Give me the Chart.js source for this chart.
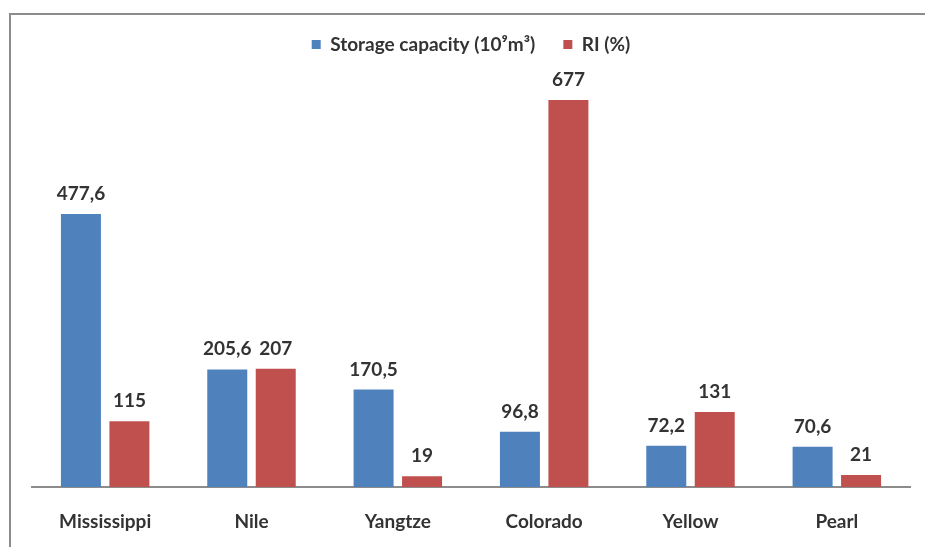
<!DOCTYPE html>
<html>
<head>
<meta charset="utf-8">
<script src="https://cdn.jsdelivr.net/npm/chart.js@4/dist/chart.umd.min.js"></script>
<style>
  html, body { margin: 0; padding: 0; background: #ffffff; }
  canvas { display: block; }
</style>
</head>
<body>
<canvas id="c" width="925" height="547"></canvas>
<script>
const categories = ["Mississippi", "Nile", "Yangtze", "Colorado", "Yellow", "Pearl"];
const storageCapacity = [477.6, 205.6, 170.5, 96.8, 72.2, 70.6];
const riPercent = [115, 207, 19, 677, 131, 21];
const seriesNames = ["Storage capacity (10\u2079m\u00B3)", "RI (%)"];

const FONT = "Lato";
const TEXT = "#333333";

const frame = {
  id: "frame",
  beforeDraw(chart) {
    const ctx = chart.ctx;
    ctx.save();
    ctx.fillStyle = "#ffffff";
    ctx.fillRect(0, 0, chart.width, chart.height);
    ctx.strokeStyle = "#8c8c8c";
    ctx.lineWidth = 2;
    ctx.beginPath();
    ctx.moveTo(10, chart.height + 5);
    ctx.lineTo(10, 14);
    ctx.lineTo(chart.width + 5, 14);
    ctx.stroke();
    ctx.restore();
  }
};

const valueLabels = {
  id: "valueLabels",
  afterDatasetsDraw(chart) {
    const ctx = chart.ctx;
    ctx.save();
    ctx.font = "bold 19px " + FONT;
    ctx.fillStyle = TEXT;
    ctx.textAlign = "center";
    ctx.textBaseline = "alphabetic";
    chart.data.datasets.forEach((ds, di) => {
      const meta = chart.getDatasetMeta(di);
      meta.data.forEach((bar, i) => {
        const txt = String(ds.data[i]).replace(".", ",");
        ctx.fillText(txt, bar.x, bar.y - 14);
      });
    });
    ctx.restore();
  }
};

new Chart(document.getElementById("c"), {
  type: "bar",
  data: {
    labels: categories,
    datasets: [
      { label: seriesNames[0], data: storageCapacity, backgroundColor: "#4F81BD" },
      { label: seriesNames[1], data: riPercent, backgroundColor: "#C0504D" }
    ]
  },
  options: {
    responsive: false,
    animation: false,
    devicePixelRatio: 1,
    categoryPercentage: 0.6626,
    barPercentage: 0.825,
    layout: { padding: { left: 32, right: 15, top: 7, bottom: 0 } },
    plugins: {
      tooltip: { enabled: false },
      legend: {
        position: "top",
        labels: {
          boxWidth: 9,
          boxHeight: 9,
          color: TEXT,
          font: { family: FONT, size: 19, weight: "bold" },
          padding: 28
        }
      }
    },
    scales: {
      x: {
        grid: { display: false, drawTicks: false },
        border: { display: true, color: "#8c8c8c", width: 2 },
        ticks: { color: TEXT, font: { family: FONT, size: 19, weight: "bold" }, padding: 23 },
        afterFit(scale) { scale.height = 60; }
      },
      y: {
        display: false,
        min: 0,
        max: 740
      }
    }
  },
  plugins: [frame, valueLabels]
});
</script>
</body>
</html>
